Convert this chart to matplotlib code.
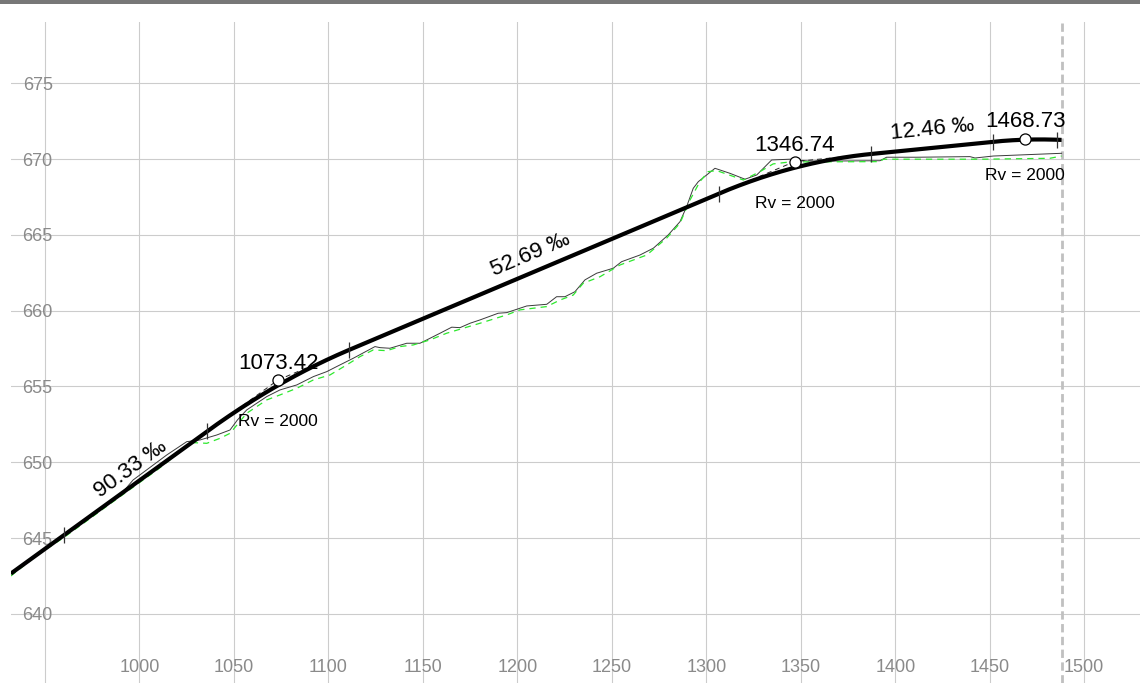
import numpy as np
import matplotlib.pyplot as plt
from matplotlib.patches import Rectangle

plt.rcParams['font.family'] = ['Liberation Sans', 'DejaVu Sans']

# existing ground (thin black line)
terrain_x = [932.0, 960.2, 979.2, 990.9, 996.7, 1014.5, 1025.1, 1032.1, 1041.0, 1048.0,
             1051.9, 1056.8, 1067.4, 1074.4, 1083.3, 1092.1, 1099.2, 1104.4, 1113.2, 1124.7,
             1127.4, 1132.6, 1141.5, 1148.5, 1152.1, 1159.1, 1165.3, 1169.7, 1175.0, 1180.3,
             1189.9, 1194.4, 1205.0, 1215.6, 1220.8, 1225.2, 1230.5, 1235.8, 1242.0, 1250.8,
             1255.2, 1264.9, 1272.0, 1279.9, 1286.1, 1289.6, 1293.1, 1295.8, 1304.6, 1312.5,
             1320.5, 1326.7, 1334.6, 1344.3, 1354.0, 1367.2, 1391.9, 1395.4, 1411.3, 1439.5,
             1442.2, 1451.9, 1488.0]
terrain_y = [642.65, 645.15, 646.88, 647.98, 648.83, 650.48, 651.36, 651.47, 651.80, 652.13,
             652.79, 653.45, 654.33, 654.77, 655.10, 655.65, 655.98, 656.31, 656.86, 657.63,
             657.56, 657.52, 657.85, 657.85, 658.07, 658.51, 658.91, 658.88, 659.17, 659.39,
             659.83, 659.87, 660.31, 660.42, 660.92, 660.92, 661.25, 662.03, 662.47, 662.80,
             663.23, 663.67, 664.12, 665.00, 665.87, 666.86, 668.07, 668.51, 669.39, 669.06,
             668.67, 668.95, 669.94, 669.99, 669.87, 669.87, 669.89, 670.12, 670.12, 670.16,
             670.07, 670.20, 670.38]

# second ground line (green dashed)
ground_x = [932.0, 945.7, 960.2, 986.1, 1010.0, 1027.7, 1035.7, 1042.7, 1048.0, 1052.4,
            1056.8, 1067.4, 1074.4, 1083.3, 1092.1, 1100.9, 1109.7, 1116.8, 1123.8, 1130.9,
            1137.9, 1145.0, 1153.8, 1162.6, 1171.4, 1180.3, 1194.4, 1201.4, 1215.6, 1222.6,
            1229.6, 1234.9, 1243.8, 1254.3, 1268.5, 1279.0, 1286.1, 1291.4, 1296.6, 1301.0,
            1305.5, 1319.6, 1328.4, 1335.4, 1344.3, 1391.9, 1393.7, 1446.6, 1481.8, 1488.0]
ground_y = [642.50, 643.85, 645.05, 647.40, 649.55, 651.30, 651.25, 651.58, 651.91, 652.57,
            653.23, 654.11, 654.44, 654.88, 655.43, 655.76, 656.42, 656.97, 657.41, 657.36,
            657.63, 657.74, 658.07, 658.51, 658.84, 659.17, 659.72, 660.05, 660.27, 660.70,
            661.03, 661.81, 662.24, 663.01, 663.67, 664.78, 665.77, 667.30, 668.51, 669.17,
            669.24, 668.62, 669.17, 669.68, 669.81, 669.83, 669.99, 669.99, 670.05, 670.20]

# design grade line
pvi_x = [1073.42, 1346.74, 1468.73]
pvi_y = [655.43, 669.83, 671.35]
grades = [90.33, 52.69, 12.46, -4.54]   # per mille
radii = [2000, 2000, 2000]
start_x, end_x = 932.0, 1488.0
extra_marks = [960.2]
grade_label_x = [995.6, 1207.1, 1419.7]


def tangent_poly(x):
    lines = [pvi_y[0] + grades[0] / 1000 * (x - pvi_x[0])]
    for k in range(1, len(grades)):
        lines.append(pvi_y[k - 1] + grades[k] / 1000 * (x - pvi_x[k - 1]))
    return np.min(lines, axis=0)


def design(x):
    x = np.asarray(x, dtype=float)
    y = tangent_poly(x)
    for k in range(len(pvi_x)):
        t = radii[k] * (grades[k] - grades[k + 1]) / 2000
        d = np.abs(x - pvi_x[k])
        inside = d < t
        y = np.where(inside, y - (t - d) ** 2 / (2 * radii[k]), y)
    return y


fig = plt.figure(figsize=(11.4, 6.83), dpi=100)
ax = fig.add_axes([11 / 1140, 0, 1 - 11 / 1140, (683 - 22) / 683])
ax.set_xlim(932.1, 1529.5)
ax.set_ylim(635.44, 679.04)

for s in ax.spines.values():
    s.set_visible(False)

xt = list(range(950, 1501, 50))
ax.set_xticks(xt)
ax.set_xticklabels([''] + [str(v) for v in xt[1:]])
ax.set_yticks(range(640, 676, 5))
ax.tick_params(axis='x', length=0, pad=-17, labelsize=13, labelcolor='#8a8a8a')
ax.tick_params(axis='y', length=0, pad=-30, labelsize=13, labelcolor='#8a8a8a')
ax.grid(True, color='#cccccc', lw=0.8)
ax.set_axisbelow(True)

ax.axvline(end_x, color='#c0c0c0', lw=2, linestyle=(0, (3, 1.6)), zorder=1)

ax.plot(terrain_x, terrain_y, color='#3a3a3a', lw=0.7, zorder=2)
ax.plot(ground_x, ground_y, color='#2ee82e', lw=0.9, linestyle=(0, (5, 4)), zorder=2)

# tangent extensions to the PVIs
for k in range(len(pvi_x)):
    t = radii[k] * (grades[k] - grades[k + 1]) / 2000
    xs = [pvi_x[k] - t, pvi_x[k], pvi_x[k] + t]
    ax.plot(xs, tangent_poly(np.array(xs)), color='#222222', lw=0.7,
            linestyle=(0, (5, 4)), zorder=3)

xs = np.linspace(start_x, end_x, 800)
ax.plot(xs, design(xs), color='black', lw=3, solid_capstyle='butt', zorder=4)

marks = list(extra_marks)
for k in range(len(pvi_x)):
    t = radii[k] * (grades[k] - grades[k + 1]) / 2000
    marks += [pvi_x[k] - t, pvi_x[k] + t]
ax.plot(marks, design(marks), linestyle='none', marker='|', markersize=11,
        markeredgewidth=0.9, color='#333333', zorder=5)

ax.plot(pvi_x, pvi_y, linestyle='none', marker='o', markersize=8,
        markerfacecolor='white', markeredgecolor='black', markeredgewidth=0.9, zorder=6)

for k in range(len(pvi_x)):
    ax.annotate(f'{pvi_x[k]:.2f}', (pvi_x[k], pvi_y[k]), xytext=(0, 8),
                textcoords='offset points', ha='center', va='baseline',
                fontsize=16, color='black', zorder=7)
    mid = design(pvi_x[k])
    ax.annotate(f'Rv = {radii[k]}', (pvi_x[k], mid), xytext=(0, -29),
                textcoords='offset points', ha='center', va='baseline',
                fontsize=12.5, color='black', zorder=7)

fig.canvas.draw()
for k, gx in enumerate(grade_label_x):
    g = grades[k]
    gy = float(design(gx))
    p1 = ax.transData.transform((gx, gy))
    p2 = ax.transData.transform((gx + 10, gy + g / 100))
    ang = np.degrees(np.arctan2(p2[1] - p1[1], p2[0] - p1[0]))
    ax.annotate(f'{g:.2f} ‰', (gx, gy), xytext=(0, 13), textcoords='offset points',
                ha='center', va='center', rotation=ang, rotation_mode='anchor',
                fontsize=16, color='black', zorder=7)

fig.add_artist(Rectangle((0, 1 - 4 / 683), 1, 4 / 683, transform=fig.transFigure,
                         color='#777777', lw=0))

fig.savefig('out.png', dpi=100)
